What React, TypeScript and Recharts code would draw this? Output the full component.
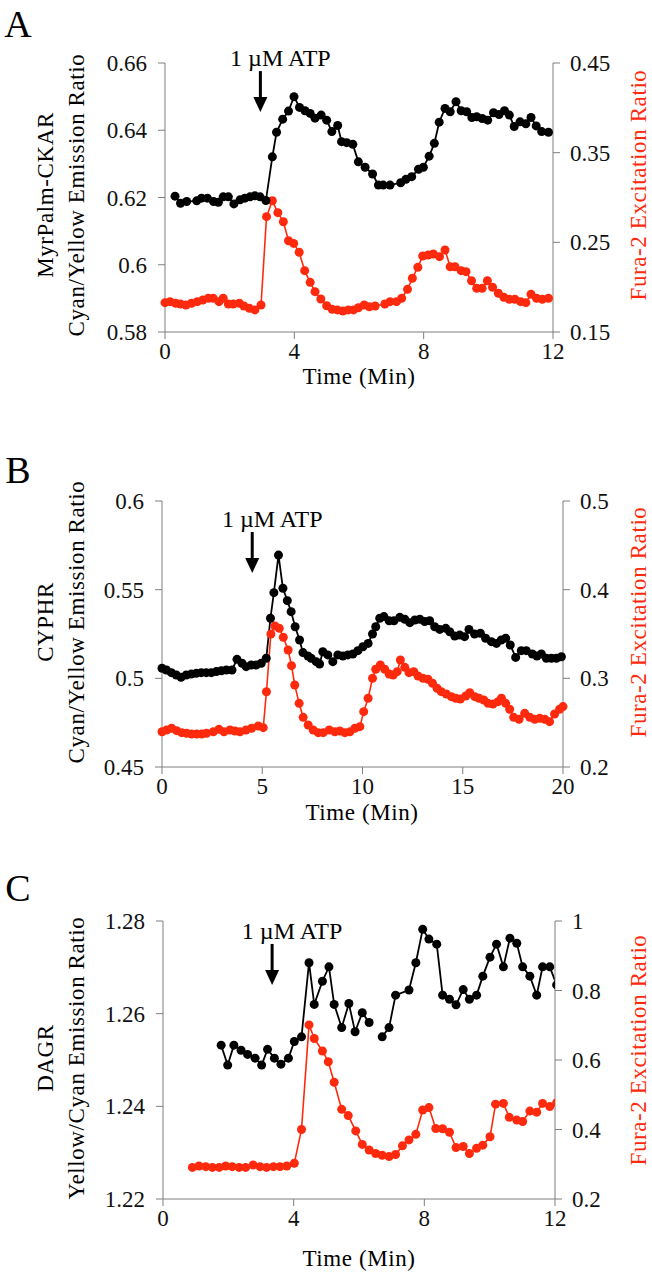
import React from 'react'
import { LineChart, Line, XAxis, YAxis, ReferenceDot } from 'recharts'

type Pt = [number, number | null]

const RED = '#ff2a0d'
const AXIS = '#7f7f7f'
const FONT = "'Liberation Serif', 'Times New Roman', serif"

// A: MyrPalm-CKAR emission ratio (left) and Fura-2 excitation ratio (right), time in min
const ckarA: Pt[] = [
    [0.31, 0.6204], [0.48, 0.6183], [0.67, 0.6188], [0.98, 0.619], [1.13, 0.6198], [1.31, 0.6198],
    [1.5, 0.6188], [1.65, 0.6186], [1.8, 0.6202], [1.96, 0.6202], [2.13, 0.6181], [2.32, 0.6193],
    [2.47, 0.6198], [2.63, 0.6202], [2.78, 0.6205], [2.94, 0.6202], [3.12, 0.6191], [3.32, 0.6321],
    [3.45, 0.6394], [3.64, 0.6433], [3.82, 0.6457], [3.99, 0.65], [4.16, 0.6468], [4.33, 0.6458],
    [4.49, 0.645], [4.64, 0.6436], [4.83, 0.6445], [5.0, 0.643], [5.16, 0.6396], [5.34, 0.6414],
    [5.46, 0.6366], [5.62, 0.6363], [5.81, 0.6358], [5.98, 0.6306], [6.19, 0.629], [6.42, 0.627],
    [6.6, 0.6237], [6.75, 0.6237], [6.96, 0.6237], [7.29, 0.6244], [7.45, 0.6254], [7.63, 0.6262],
    [7.84, 0.6284], [7.99, 0.629], [8.17, 0.6323], [8.33, 0.6361], [8.48, 0.6424], [8.66, 0.6465],
    [8.82, 0.6455], [9.0, 0.6485], [9.16, 0.6458], [9.33, 0.6455], [9.49, 0.6438], [9.64, 0.644],
    [9.81, 0.6435], [9.98, 0.643], [10.16, 0.6452], [10.33, 0.6447], [10.5, 0.6458], [10.65, 0.6445],
    [10.8, 0.6411], [10.98, 0.6425], [11.16, 0.6419], [11.32, 0.6438], [11.48, 0.6413], [11.65, 0.6396],
    [11.86, 0.6394],
]
const furaA: Pt[] = [
    [0, 0.1827], [0.155, 0.1838], [0.33, 0.182], [0.48, 0.1812], [0.65, 0.1801], [0.82, 0.182],
    [1.0, 0.1838], [1.17, 0.1857], [1.34, 0.1876], [1.49, 0.1876], [1.67, 0.1838], [1.8, 0.1876],
    [1.96, 0.1812], [2.11, 0.1812], [2.3, 0.182], [2.44, 0.179], [2.61, 0.1764], [2.78, 0.1746],
    [2.97, 0.1801], [3.14, 0.2786], [3.32, 0.2964], [3.49, 0.2831], [3.66, 0.273], [3.82, 0.2518],
    [3.98, 0.2488], [4.15, 0.2389], [4.32, 0.2184], [4.49, 0.2054], [4.64, 0.195], [4.82, 0.1868],
    [5.0, 0.1793], [5.17, 0.1753], [5.33, 0.1746], [5.5, 0.1734], [5.67, 0.1746], [5.83, 0.1746],
    [5.98, 0.1771], [6.16, 0.1801], [6.32, 0.1782], [6.5, 0.179], [6.8, 0.1812], [6.96, 0.1838],
    [7.16, 0.1838], [7.32, 0.1876], [7.5, 0.1976], [7.65, 0.2099], [7.82, 0.2222], [7.97, 0.2348],
    [8.14, 0.2359], [8.3, 0.237], [8.49, 0.234], [8.66, 0.2415], [8.82, 0.2228], [8.97, 0.2228],
    [9.16, 0.2184], [9.31, 0.2173], [9.48, 0.2072], [9.64, 0.1987], [9.81, 0.1987], [9.97, 0.2072],
    [10.13, 0.1999], [10.31, 0.1932], [10.48, 0.1887], [10.65, 0.1865], [10.82, 0.1865], [11.0, 0.1838],
    [11.16, 0.1827], [11.32, 0.1921], [11.49, 0.1876], [11.67, 0.1865], [11.86, 0.1876],
]

// B: CYPHR, 0-20 min
const cyphrB: Pt[] = [
    [0, 0.5057], [0.22, 0.5047], [0.47, 0.5032], [0.71, 0.5019], [0.95, 0.5006], [1.21, 0.5019],
    [1.46, 0.5024], [1.71, 0.5028], [1.96, 0.5032], [2.21, 0.5032], [2.46, 0.5032], [2.71, 0.5038],
    [2.96, 0.5043], [3.21, 0.5047], [3.49, 0.5047], [3.74, 0.5107], [3.99, 0.5085], [4.2, 0.5066],
    [4.45, 0.5075], [4.7, 0.5075], [4.95, 0.5085], [5.2, 0.5113], [5.41, 0.5339], [5.58, 0.5483],
    [5.81, 0.5695], [6.03, 0.5508], [6.25, 0.5438], [6.44, 0.5376], [6.64, 0.5291], [6.86, 0.5216],
    [7.03, 0.5145], [7.28, 0.5126], [7.44, 0.5113], [7.69, 0.5094], [7.86, 0.5081], [8.02, 0.515],
    [8.27, 0.5132], [8.52, 0.5094], [8.77, 0.5132], [9.02, 0.5126], [9.27, 0.5132], [9.52, 0.5137],
    [9.77, 0.5156], [10.02, 0.5178], [10.28, 0.5197], [10.5, 0.525], [10.66, 0.5291], [10.86, 0.5339],
    [11.07, 0.5348], [11.33, 0.5325], [11.57, 0.5325], [11.86, 0.5344], [12.11, 0.5333], [12.36, 0.5314],
    [12.61, 0.5329], [12.86, 0.5333], [13.1, 0.532], [13.35, 0.5325], [13.6, 0.5291], [13.85, 0.5276],
    [14.15, 0.5282], [14.35, 0.5263], [14.6, 0.5239], [14.85, 0.5244], [15.09, 0.5235], [15.31, 0.5276],
    [15.59, 0.525], [15.88, 0.5254], [16.14, 0.5226], [16.43, 0.5207], [16.68, 0.5197], [16.92, 0.5216],
    [17.14, 0.5226], [17.37, 0.5188], [17.64, 0.5118], [17.92, 0.5156], [18.17, 0.5156], [18.47, 0.5137],
    [18.7, 0.5126], [18.92, 0.5137], [19.17, 0.5113], [19.42, 0.5113], [19.67, 0.5113], [19.92, 0.5122],
]
const furaB: Pt[] = [
    [0, 0.2398], [0.23, 0.2417], [0.48, 0.2437], [0.73, 0.241], [0.98, 0.2387], [1.23, 0.238],
    [1.48, 0.2372], [1.73, 0.2372], [1.98, 0.2372], [2.22, 0.238], [2.56, 0.2398], [2.84, 0.2425],
    [3.09, 0.2398], [3.39, 0.2417], [3.64, 0.2406], [3.89, 0.2398], [4.19, 0.2417], [4.47, 0.2437],
    [4.8, 0.2463], [5.05, 0.2444], [5.21, 0.2849], [5.43, 0.35], [5.63, 0.359], [5.85, 0.3564],
    [6.05, 0.3463], [6.29, 0.332], [6.46, 0.3143], [6.62, 0.2925], [6.84, 0.2718], [7.04, 0.256],
    [7.29, 0.2474], [7.54, 0.2417], [7.79, 0.2387], [8.04, 0.2387], [8.34, 0.2417], [8.62, 0.2398],
    [8.87, 0.2406], [9.12, 0.2387], [9.37, 0.2398], [9.62, 0.2437], [9.87, 0.2455], [10.06, 0.2624],
    [10.28, 0.2775], [10.5, 0.3], [10.66, 0.3102], [10.89, 0.315], [11.11, 0.3102], [11.33, 0.3049],
    [11.53, 0.3038], [11.73, 0.3075], [11.89, 0.3207], [12.11, 0.3124], [12.32, 0.3064], [12.56, 0.3075],
    [12.77, 0.3026], [13.02, 0.3], [13.27, 0.2989], [13.49, 0.2944], [13.72, 0.2888], [13.93, 0.285],
    [14.18, 0.2823], [14.43, 0.2793], [14.65, 0.2775], [14.88, 0.2767], [15.15, 0.2801], [15.35, 0.2838],
    [15.6, 0.2793], [15.81, 0.2775], [16.05, 0.2756], [16.26, 0.2718], [16.51, 0.271], [16.76, 0.2737],
    [16.93, 0.2775], [17.14, 0.2718], [17.34, 0.2651], [17.54, 0.256], [17.81, 0.2538], [18.09, 0.2605],
    [18.34, 0.256], [18.59, 0.2538], [18.84, 0.2549], [19.09, 0.2538], [19.33, 0.2511], [19.58, 0.2598],
    [19.83, 0.2651], [20.0, 0.2681],
]

// C: DAGR, 0-12 min (one missing frame near 6.5 min)
const dagrC: Pt[] = [
    [1.78, 1.2532], [1.98, 1.2489], [2.17, 1.2532], [2.39, 1.2521], [2.59, 1.2512], [2.82, 1.2504],
    [3.02, 1.2489], [3.2, 1.2523], [3.41, 1.2504], [3.61, 1.2491], [3.84, 1.2504], [4.02, 1.254],
    [4.24, 1.255], [4.47, 1.271], [4.63, 1.262], [4.88, 1.267], [5.08, 1.2701], [5.24, 1.262],
    [5.47, 1.257], [5.69, 1.2622], [5.88, 1.2561], [6.1, 1.2602], [6.31, 1.2581], [6.51, null],
    [6.71, 1.255], [6.92, 1.257], [7.12, 1.264], [7.53, 1.2651], [7.74, 1.271], [7.95, 1.2782],
    [8.14, 1.2761], [8.38, 1.275], [8.56, 1.264], [8.77, 1.2631], [8.97, 1.2619], [9.19, 1.2652],
    [9.38, 1.2631], [9.6, 1.264], [9.79, 1.2681], [10.01, 1.2722], [10.21, 1.275], [10.42, 1.2701],
    [10.62, 1.2763], [10.83, 1.2752], [11.01, 1.2701], [11.23, 1.2681], [11.44, 1.264], [11.62, 1.2701],
    [11.84, 1.2701], [12.05, 1.2662], [12.25, 1.2631],
]
const furaC: Pt[] = [
    [0.9, 0.291], [1.1, 0.295], [1.31, 0.293], [1.51, 0.291], [1.72, 0.291], [1.92, 0.295],
    [2.12, 0.293], [2.33, 0.291], [2.53, 0.291], [2.76, 0.298], [2.97, 0.293], [3.17, 0.291],
    [3.38, 0.293], [3.58, 0.293], [3.79, 0.295], [4.02, 0.303], [4.24, 0.4], [4.47, 0.701],
    [4.63, 0.662], [4.88, 0.626], [5.06, 0.595], [5.24, 0.536], [5.47, 0.458], [5.67, 0.44],
    [5.9, 0.396], [6.1, 0.357], [6.31, 0.341], [6.51, 0.331], [6.71, 0.326], [6.92, 0.322],
    [7.12, 0.328], [7.33, 0.353], [7.53, 0.37], [7.74, 0.386], [7.95, 0.456], [8.14, 0.463],
    [8.35, 0.403], [8.56, 0.402], [8.77, 0.392], [8.97, 0.348], [9.19, 0.351], [9.38, 0.331],
    [9.6, 0.346], [9.79, 0.355], [10.01, 0.379], [10.18, 0.473], [10.42, 0.475], [10.6, 0.435],
    [10.83, 0.427], [11.01, 0.423], [11.23, 0.453], [11.44, 0.45], [11.62, 0.475], [11.84, 0.466],
    [12.05, 0.477],
]

// time of ATP addition and arrow tip height (left axis units)
const atpA: [number, number] = [2.95, 0.6454]
const atpB: [number, number] = [4.5, 0.5594]
const atpC: [number, number] = [3.34, 1.2662]

const rows = (pts: Pt[]) => pts.map(([t, v]) => ({ t, v }))

const tickStyle = { fill: '#111', fontSize: 23, fontFamily: FONT }

function AtpArrow({ cx, cy }: any) {
    if (cx == null || cy == null) return null
    return (
        <g>
            <line x1={cx} y1={cy - 41} x2={cx} y2={cy - 13} stroke="#000" strokeWidth={3} />
            <polygon points={`${cx - 7},${cy - 15} ${cx + 7},${cy - 15} ${cx},${cy}`} fill="#000" />
            <text x={cx + 20} y={cy - 54} textAnchor="middle" dominantBaseline="central"
                fontSize={24} fontFamily={FONT} fill="#000">1 µM ATP</text>
        </g>
    )
}

interface PanelProps {
    top: number
    height: number
    margin: { top: number; left: number; right: number; bottom: number }
    xMax: number
    xTicks: number[]
    leftDomain: [number, number]
    leftTicks: number[]
    rightDomain: [number, number]
    rightTicks: number[]
    black: Pt[]
    red: Pt[]
    atp: [number, number]
    clipX?: boolean
}

function Panel(p: PanelProps) {
    return (
        <div style={{ position: 'absolute', left: 0, top: p.top }}>
            <LineChart width={652} height={p.height} margin={p.margin}>
                <XAxis type="number" dataKey="t" domain={[0, p.xMax]} ticks={p.xTicks}
                    allowDataOverflow={!!p.clipX} height={40} tickSize={7} tickMargin={4}
                    stroke={AXIS} tick={tickStyle} />
                <YAxis yAxisId="left" orientation="left" domain={p.leftDomain} ticks={p.leftTicks}
                    width={60} tickSize={7} tickMargin={11} stroke={AXIS} tick={tickStyle} />
                <YAxis yAxisId="right" orientation="right" domain={p.rightDomain} ticks={p.rightTicks}
                    width={60} tickSize={7} tickMargin={10} stroke={AXIS} tick={tickStyle} />
                <Line yAxisId="right" data={rows(p.red)} dataKey="v" type="linear" stroke={RED}
                    strokeWidth={1.6} dot={{ r: 4.5, fill: RED, stroke: 'none' }}
                    isAnimationActive={false} />
                <Line yAxisId="left" data={rows(p.black)} dataKey="v" type="linear" stroke="#000"
                    strokeWidth={1.8} dot={{ r: 4.5, fill: '#000', stroke: 'none' }}
                    connectNulls={false} isAnimationActive={false} />
                <ReferenceDot yAxisId="left" x={p.atp[0]} y={p.atp[1]} shape={<AtpArrow />} />
            </LineChart>
        </div>
    )
}

const titleStyle = { fontFamily: FONT, fontSize: 23, letterSpacing: 0.6 }

function Vtitle({ x, y, text, color = '#000' }: { x: number; y: number; text: string; color?: string }) {
    return (
        <text x={x} y={y} transform={`rotate(-90 ${x} ${y})`} textAnchor="middle"
            dominantBaseline="central" fill={color} style={titleStyle}>{text}</text>
    )
}

export default function App() {
    return (
        <div style={{ position: 'absolute', left: 0, top: 0, width: 652, height: 1280, background: '#fff' }}>
            <Panel top={0} height={400} margin={{ top: 63, left: 105, right: 39, bottom: 28 }}
                xMax={12} xTicks={[0, 4, 8, 12]}
                leftDomain={[0.58, 0.66]} leftTicks={[0.58, 0.6, 0.62, 0.64, 0.66]}
                rightDomain={[0.15, 0.45]} rightTicks={[0.15, 0.25, 0.35, 0.45]}
                black={ckarA} red={furaA} atp={atpA} />
            <Panel top={420} height={420} margin={{ top: 81, left: 102, right: 29, bottom: 33 }}
                xMax={20} xTicks={[0, 5, 10, 15, 20]}
                leftDomain={[0.45, 0.6]} leftTicks={[0.45, 0.5, 0.55, 0.6]}
                rightDomain={[0.2, 0.5]} rightTicks={[0.2, 0.3, 0.4, 0.5]}
                black={cyphrB} red={furaB} atp={atpB} />
            <Panel top={850} height={430} margin={{ top: 71, left: 103, right: 37, bottom: 41 }}
                xMax={12} xTicks={[0, 4, 8, 12]} clipX
                leftDomain={[1.22, 1.28]} leftTicks={[1.22, 1.24, 1.26, 1.28]}
                rightDomain={[0.2, 1]} rightTicks={[0.2, 0.4, 0.6, 0.8, 1]}
                black={dagrC} red={furaC} atp={atpC} />

            <svg width={652} height={1280} style={{ position: 'absolute', left: 0, top: 0, pointerEvents: 'none' }}>
                <text x={18} y={24} textAnchor="middle" dominantBaseline="central" fontSize={38} fontFamily={FONT}>A</text>
                <text x={18} y={470} textAnchor="middle" dominantBaseline="central" fontSize={38} fontFamily={FONT}>B</text>
                <text x={18} y={888} textAnchor="middle" dominantBaseline="central" fontSize={38} fontFamily={FONT}>C</text>

                <Vtitle x={45} y={195} text="MyrPalm-CKAR" />
                <Vtitle x={76} y={195} text="Cyan/Yellow Emission Ratio" />
                <Vtitle x={638} y={185} text="Fura-2 Excitation Ratio" color={RED} />
                <text x={359} y={376} textAnchor="middle" dominantBaseline="central" style={titleStyle}>Time (Min)</text>

                <Vtitle x={45} y={622} text="CYPHR" />
                <Vtitle x={76} y={622} text="Cyan/Yellow Emission Ratio" />
                <Vtitle x={638} y={622} text="Fura-2 Excitation Ratio" color={RED} />
                <text x={362} y={812} textAnchor="middle" dominantBaseline="central" style={titleStyle}>Time (Min)</text>

                <Vtitle x={45} y={1058} text="DAGR" />
                <Vtitle x={76} y={1058} text="Yellow/Cyan Emission Ratio" />
                <Vtitle x={638} y={1050} text="Fura-2 Excitation Ratio" color={RED} />
                <text x={359} y={1258} textAnchor="middle" dominantBaseline="central" style={titleStyle}>Time (Min)</text>
            </svg>
        </div>
    )
}
